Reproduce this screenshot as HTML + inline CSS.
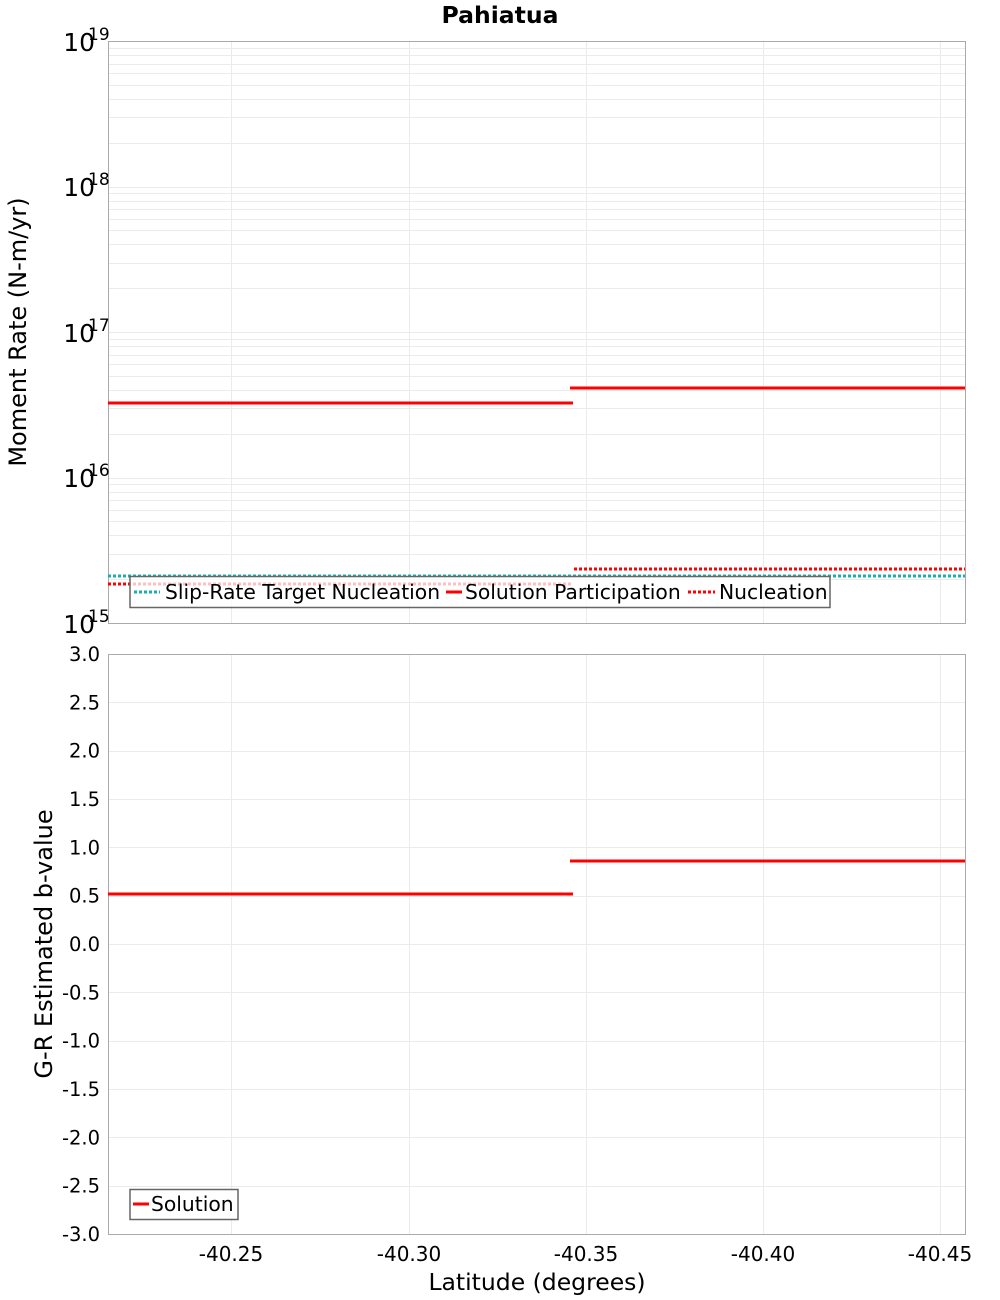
<!DOCTYPE html>
<html><head><meta charset="utf-8"><style>body{margin:0;background:#fff}svg{display:block;font-family:"DejaVu Sans","Liberation Sans",sans-serif}</style></head>
<body>
<svg id="s" width="1000" height="1300" xmlns="http://www.w3.org/2000/svg">
<g id="grid" stroke="#ebebeb" stroke-width="1"></g>
<text x="500" y="23" text-anchor="middle" font-weight="bold" font-size="23.5">Pahiatua</text>
<rect x="108.5" y="41.5" width="857" height="582" fill="none" stroke="#aaa"/>
<rect x="108.5" y="654.5" width="857" height="580" fill="none" stroke="#aaa"/>
<g font-size="25" fill="#000">
<text x="95" y="51" text-anchor="end">10</text><text x="88" y="40" font-size="17">19</text>
<text x="95" y="196" text-anchor="end">10</text><text x="88" y="185" font-size="17">18</text>
<text x="95" y="342" text-anchor="end">10</text><text x="88" y="331" font-size="17">17</text>
<text x="95" y="487" text-anchor="end">10</text><text x="88" y="476" font-size="17">16</text>
<text x="95" y="633" text-anchor="end">10</text><text x="88" y="622" font-size="17">15</text>
</g>
<text transform="translate(26,332) rotate(-90)" text-anchor="middle" font-size="24">Moment Rate (N-m/yr)</text>
<text transform="translate(52,944) rotate(-90)" text-anchor="middle" font-size="24">G-R Estimated b-value</text>
<g id="yl" font-size="19.5" text-anchor="end"></g>
<g font-size="20" text-anchor="middle">
<text x="231" y="1261">-40.25</text><text x="409" y="1261">-40.30</text><text x="586" y="1261">-40.35</text><text x="763" y="1261">-40.40</text><text x="940" y="1261">-40.45</text>
</g>
<text x="537" y="1290" text-anchor="middle" font-size="23.5">Latitude (degrees)</text>
<line x1="108" y1="576" x2="965" y2="576" stroke="#1aaeae" stroke-width="3" stroke-dasharray="3,2"/>
<line x1="108" y1="584" x2="572" y2="584" stroke="#f00" stroke-width="3" stroke-dasharray="3,2"/>
<line x1="574" y1="569" x2="965" y2="569" stroke="#f00" stroke-width="3" stroke-dasharray="3,2"/>
<line x1="108" y1="403" x2="573" y2="403" stroke="#f00" stroke-width="3"/>
<line x1="570" y1="388" x2="965" y2="388" stroke="#f00" stroke-width="3"/>
<rect x="130" y="576.5" width="700" height="31" fill="#fff" fill-opacity="0.75" stroke="#666" stroke-width="1.5"/>
<line x1="134" y1="592" x2="160" y2="592" stroke="#1aaeae" stroke-width="3" stroke-dasharray="3,2"/>
<text x="165" y="599" font-size="20.3">Slip-Rate Target Nucleation</text>
<line x1="446" y1="592" x2="462" y2="592" stroke="#f00" stroke-width="3"/>
<text x="465" y="599" font-size="20.3">Solution Participation</text>
<line x1="688" y1="592" x2="715" y2="592" stroke="#f00" stroke-width="3" stroke-dasharray="3,2"/>
<text x="719" y="599" font-size="20.3">Nucleation</text>
<line x1="108" y1="894" x2="573" y2="894" stroke="#f00" stroke-width="3"/>
<line x1="570" y1="861" x2="965" y2="861" stroke="#f00" stroke-width="3"/>
<rect x="130" y="1189.5" width="108" height="30" fill="#fff" stroke="#666" stroke-width="1.5"/>
<line x1="133" y1="1204" x2="149" y2="1204" stroke="#f00" stroke-width="3"/>
<text x="151" y="1211" font-size="20.3">Solution</text>
</svg>
<script>
var g=document.getElementById('grid'),ns='http://www.w3.org/2000/svg';
function L(x1,y1,x2,y2){var l=document.createElementNS(ns,'line');l.setAttribute('x1',x1);l.setAttribute('y1',y1);l.setAttribute('x2',x2);l.setAttribute('y2',y2);g.appendChild(l);}
for(var d=0;d<4;d++)for(var k=1;k<=9;k++){var y=Math.round(623-145.5*(d+Math.log10(k)))+0.5;if(y>42)L(109,y,965,y);}
[231,409,586,763,940].forEach(function(x){L(x+0.5,42,x+0.5,623);L(x+0.5,655,x+0.5,1234);});
var yl=document.getElementById('yl');
for(var i=0;i<=12;i++){var y=654+i*48.33;if(i>0&&i<12)L(109,Math.round(y)+0.5,965,Math.round(y)+0.5);
var t=document.createElementNS(ns,'text');t.setAttribute('x',100);t.setAttribute('y',y+7);t.textContent=(3-i*0.5).toFixed(1);yl.appendChild(t);}
</script>
</body></html>
